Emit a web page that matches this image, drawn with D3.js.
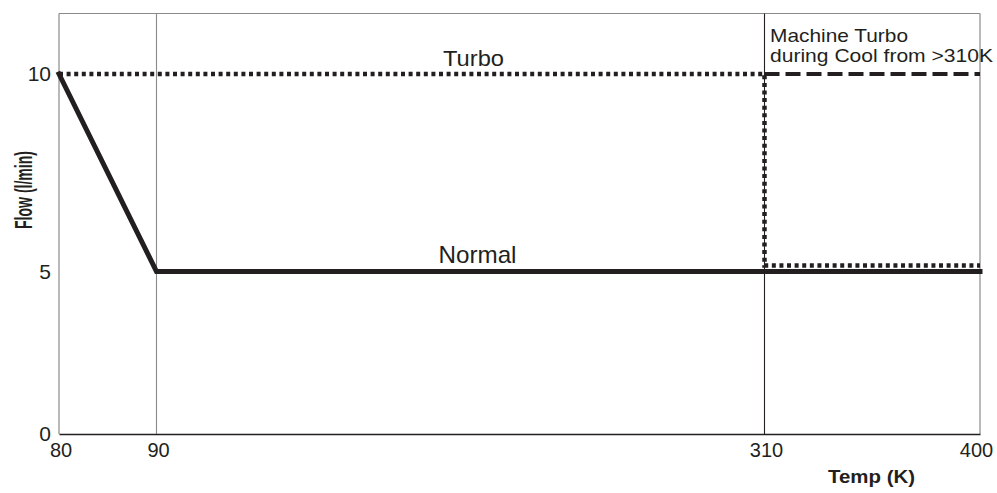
<!DOCTYPE html>
<html lang="en">
<head>
<meta charset="UTF-8">
<title>Flow vs Temp</title>
<script src="https://d3js.org/d3.v7.min.js"></script>
<style>
    body { margin: 0; background: #fff; font-family: Arial, "Liberation Sans", sans-serif; }
    svg text { fill: #231f20; }
</style>
</head>
<body>
<svg id="chart" width="997" height="493"></svg>
<script>
    // values
    const xTicks = [80, 90, 310, 400];
    const yTicks = [0, 5, 10];
    const gridTemps = [90, 310];
    const normalTemp = [80, 90, 400];
    const normalFlow = [10, 5, 5];
    const turboTemp = [80, 310, 310, 400];
    const turboFlow = [10, 10, 5.15, 5.15];
    const machineTemp = [310, 400];
    const machineFlow = [10, 10];

    const ink = '#231f20';
    const frameGray = '#8a8a8a';

    const svg = d3.select('#chart');

    // both axes in the source are piecewise, so use polylinear scales
    const x = d3.scaleLinear().domain([80, 90, 310, 400]).range([59, 156.5, 764.5, 980]);
    const y = d3.scaleLinear().domain([0, 5, 10, 11.55]).range([434, 271.5, 74, 13.5]);

    const x0 = x(80), x1 = x(400), yTop = y(11.55), yBot = y(0);

    // frame
    svg.append('line').attr('x1', x0).attr('x2', x1).attr('y1', yTop).attr('y2', yTop)
        .attr('stroke', frameGray).attr('stroke-width', 1.2);
    svg.append('line').attr('x1', x0).attr('x2', x0).attr('y1', yTop).attr('y2', yBot)
        .attr('stroke', frameGray).attr('stroke-width', 1.2);
    svg.append('line').attr('x1', x1).attr('x2', x1).attr('y1', yTop).attr('y2', yBot)
        .attr('stroke', frameGray).attr('stroke-width', 1.2);

    // vertical grid lines
    svg.selectAll('.grid')
        .data(gridTemps)
        .enter().append('line')
        .attr('class', 'grid')
        .attr('x1', d => x(d)).attr('x2', d => x(d))
        .attr('y1', yTop).attr('y2', yBot)
        .attr('stroke', (d, i) => i === 0 ? frameGray : ink)
        .attr('stroke-width', 1.1);

    // bottom axis
    const xAxis = svg.append('g')
        .attr('transform', `translate(0,${yBot})`)
        .call(d3.axisBottom(x).tickValues(xTicks).tickSize(0).tickPadding(8.5).tickFormat(d3.format('d')));
    xAxis.select('.domain').attr('stroke', ink).attr('stroke-width', 1.3);
    xAxis.selectAll('text')
        .attr('font-family', 'Arial, "Liberation Sans", sans-serif')
        .attr('font-size', 20)
        .attr('dx', (d, i) => i === xTicks.length - 1 ? -4 : 1.5)
        .attr('fill', ink);

    // left axis (labels only, frame line drawn above)
    const yAxis = svg.append('g')
        .attr('transform', `translate(${x0},0)`)
        .call(d3.axisLeft(y).tickValues(yTicks).tickSize(0).tickPadding(8).tickFormat(d3.format('d')));
    yAxis.select('.domain').remove();
    yAxis.selectAll('text')
        .attr('font-family', 'Arial, "Liberation Sans", sans-serif')
        .attr('font-size', 21)
        .attr('fill', ink);

    const line = d3.line().x(d => x(d[0])).y(d => y(d[1]));

    // Normal: thick solid
    svg.append('path')
        .datum(d3.zip(normalTemp, normalFlow))
        .attr('d', line)
        .attr('fill', 'none')
        .attr('stroke', ink)
        .attr('stroke-width', 5)
        .attr('stroke-linecap', 'square')
        .attr('stroke-linejoin', 'miter');

    // Turbo: dotted
    svg.append('path')
        .datum(d3.zip(turboTemp, turboFlow))
        .attr('d', line)
        .attr('fill', 'none')
        .attr('stroke', ink)
        .attr('stroke-width', 4.5)
        .attr('stroke-dasharray', '4,3.6');

    // Machine Turbo during cool: dashed
    svg.append('path')
        .datum(d3.zip(machineTemp, machineFlow))
        .attr('d', line)
        .attr('fill', 'none')
        .attr('stroke', ink)
        .attr('stroke-width', 4)
        .attr('stroke-dasharray', '15,6');

    // series labels
    svg.append('text')
        .attr('x', 443).attr('y', y(10) - 8)
        .attr('font-size', 22)
        .attr('textLength', 61).attr('lengthAdjust', 'spacingAndGlyphs')
        .text('Turbo');
    svg.append('text')
        .attr('x', 438.5).attr('y', y(5) - 8.5)
        .attr('font-size', 24)
        .attr('textLength', 78).attr('lengthAdjust', 'spacingAndGlyphs')
        .text('Normal');
    svg.append('text')
        .attr('x', x(310) + 5.5).attr('y', 41.7)
        .attr('font-size', 19)
        .attr('textLength', 138).attr('lengthAdjust', 'spacingAndGlyphs')
        .text('Machine Turbo');
    svg.append('text')
        .attr('x', x(310) + 5.5).attr('y', 61.5)
        .attr('font-size', 19)
        .attr('textLength', 223).attr('lengthAdjust', 'spacingAndGlyphs')
        .text('during Cool from >310K');

    // axis titles
    svg.append('text')
        .attr('x', 828).attr('y', 483)
        .attr('font-size', 18).attr('font-weight', 'bold')
        .attr('textLength', 87).attr('lengthAdjust', 'spacingAndGlyphs')
        .text('Temp (K)');
    svg.append('text')
        .attr('transform', 'translate(32,190) rotate(-90)')
        .attr('text-anchor', 'middle')
        .attr('font-size', 23).attr('font-weight', 'bold')
        .attr('textLength', 78).attr('lengthAdjust', 'spacingAndGlyphs')
        .text('Flow (l/min)');
</script>
</body>
</html>
